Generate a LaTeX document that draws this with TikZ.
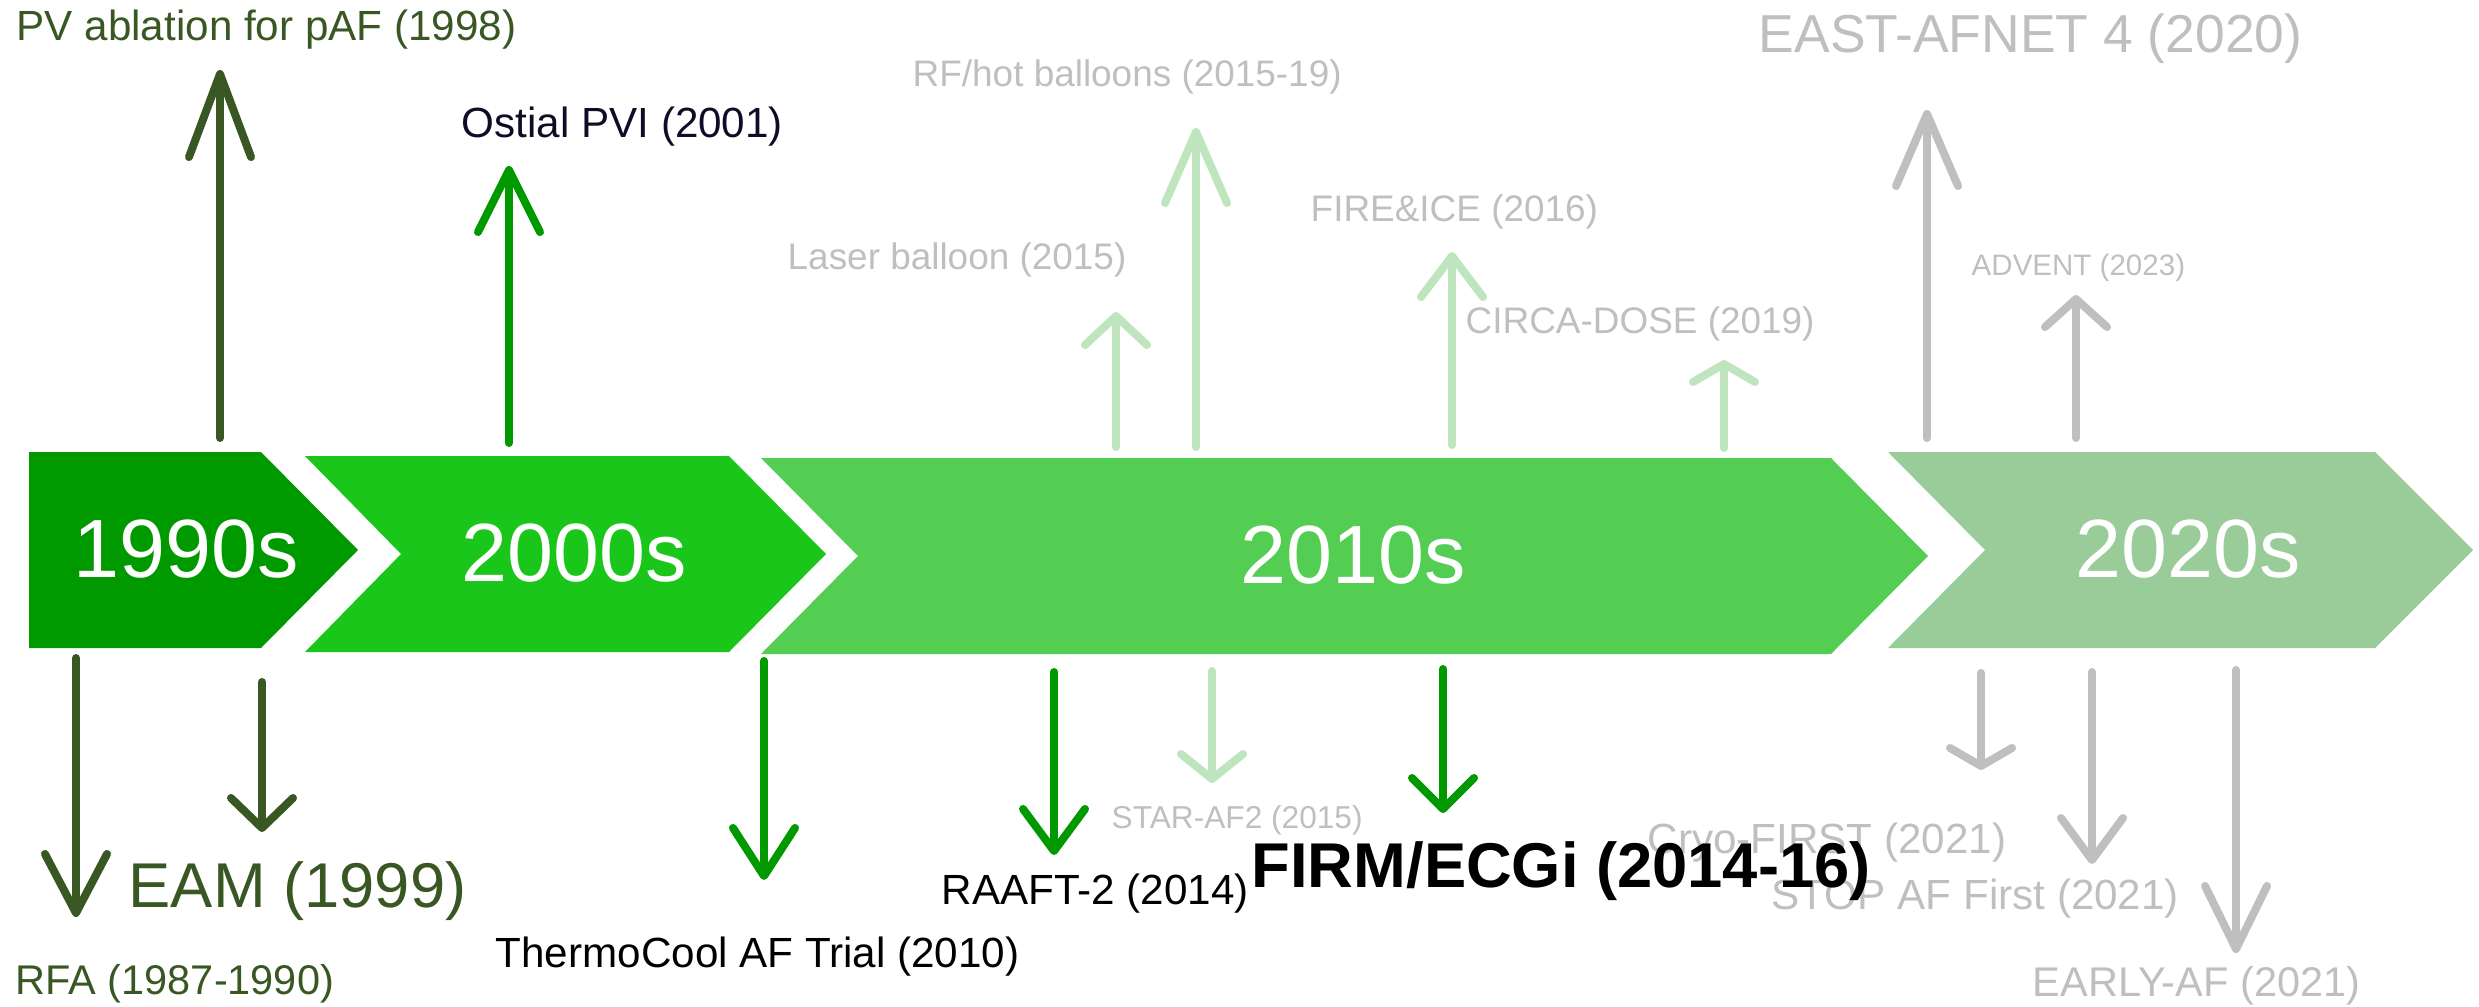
\documentclass[tikz,border=0pt]{standalone}
\usepackage{fontspec}
\setmainfont{Liberation Sans}
\usepackage{tikz}
\usetikzlibrary{arrows.meta, positioning}
\definecolor{olivegrn}{HTML}{385723}
\definecolor{darkgrn}{HTML}{009900}
\definecolor{midgrn}{HTML}{1AC61A}
\definecolor{brightgrn}{HTML}{53CE53}
\definecolor{palegrn}{HTML}{99CC99}
\definecolor{lightgrn}{HTML}{BEE5BE}
\definecolor{greytxt}{HTML}{BFBFBF}
\definecolor{navytxt}{HTML}{0D0D26}
\newcommand{\fsz}[1]{\fontsize{#1}{#1}\selectfont}

\begin{document}
\begin{tikzpicture}[x=0.01cm, y=-0.01cm,
	arr/.style={line width=0.08cm, line cap=round, -{Straight Barb[length=#1, width=0.62cm, round]}}]
	\tikzstyle{lbl}=[inner sep=0pt, anchor=base west]
	\tikzstyle{decade}=[inner sep=0pt, anchor=base, text=white, font=\fsz{23.5}]
	\useasboundingbox (0,0) rectangle (2479,1006);
	
	% decade chevrons
	\fill[darkgrn] (29,452) -- (261,452) -- (358,550) -- (261,648) -- (29,648) -- cycle;
	\fill[midgrn] (305,456) -- (729,456) -- (826,554) -- (729,652) -- (305,652) -- (401,554) -- cycle;
	\fill[brightgrn] (761,458) -- (1831,458) -- (1928,556) -- (1831,654) -- (761,654) -- (858,556) -- cycle;
	\fill[palegrn] (1888,452) -- (2375,452) -- (2473,550) -- (2375,648) -- (1888,648) -- (1985,550) -- cycle;
	\node (d90) at (186,577) [decade]{1990s};
	\node (d00) at (574,581) [decade]{2000s};
	\node (d10) at (1353,583) [decade]{2010s};
	\node (d20) at (2188,577) [decade]{2020s};
	
	% upper arrows
	\coordinate (pvA) at (220,438);  \coordinate (pvB) at (220,70);
	\coordinate (osA) at (509,443);  \coordinate (osB) at (509,166);
	\coordinate (lbA) at (1116,447); \coordinate (lbB) at (1116,312);
	\coordinate (rfA) at (1196,447); \coordinate (rfB) at (1196,128);
	\coordinate (fiA) at (1452,445); \coordinate (fiB) at (1452,252);
	\coordinate (cdA) at (1724,448); \coordinate (cdB) at (1724,360);
	\coordinate (eaA) at (1927,438); \coordinate (eaB) at (1927,110);
	\coordinate (adA) at (2076,438); \coordinate (adB) at (2076,295);
	\draw[arr=0.83cm, olivegrn] (pvA) -- (pvB);
	\draw[arr=0.62cm, darkgrn] (osA) -- (osB);
	\draw[arr=0.29cm, lightgrn] (lbA) -- (lbB);
	\draw[arr=0.71cm, lightgrn] (rfA) -- (rfB);
	\draw[arr=0.41cm, lightgrn] (fiA) -- (fiB);
	\draw[arr=0.18cm, lightgrn] (cdA) -- (cdB);
	\draw[arr=0.72cm, greytxt] (eaA) -- (eaB);
	\draw[arr=0.28cm, greytxt] (adA) -- (adB);
	
	% lower arrows
	\coordinate (rfaA) at (76,658);   \coordinate (rfaB) at (76,917);
	\coordinate (eamA) at (262,682);  \coordinate (eamB) at (262,832);
	\coordinate (tcA) at (764,661);   \coordinate (tcB) at (764,880);
	\coordinate (raA) at (1054,672);  \coordinate (raB) at (1054,855);
	\coordinate (stA) at (1212,671);  \coordinate (stB) at (1212,783);
	\coordinate (fmA) at (1443,669);  \coordinate (fmB) at (1443,813);
	\coordinate (cfA) at (1981,673);  \coordinate (cfB) at (1981,770);
	\coordinate (spA) at (2092,672);  \coordinate (spB) at (2092,864);
	\coordinate (elA) at (2236,670);  \coordinate (elB) at (2236,953);
	\draw[arr=0.59cm, olivegrn] (rfaA) -- (rfaB);
	\draw[arr=0.30cm, olivegrn] (eamA) -- (eamB);
	\draw[arr=0.48cm, darkgrn] (tcA) -- (tcB);
	\draw[arr=0.42cm, darkgrn] (raA) -- (raB);
	\draw[arr=0.25cm, lightgrn] (stA) -- (stB);
	\draw[arr=0.31cm, darkgrn] (fmA) -- (fmB);
	\draw[arr=0.18cm, greytxt] (cfA) -- (cfB);
	\draw[arr=0.42cm, greytxt] (spA) -- (spB);
	\draw[arr=0.63cm, greytxt] (elA) -- (elB);
	
	% labels above
	\node (pv) at (16,41) [lbl, text=olivegrn, font=\fsz{12}]{PV ablation for pAF (1998)};
	\node (os) at (461,137) [lbl, text=navytxt, font=\fsz{12}]{Ostial PVI (2001)};
	\node (rf) at (912,87) [lbl, text=greytxt, font=\fsz{10.5}]{RF/hot balloons (2015-19)};
	\node (lb) at (787,269) [lbl, text=greytxt, font=\fsz{10.5}]{Laser balloon (2015)};
	\node (fi) at (1310,221) [lbl, text=greytxt, font=\fsz{10.5}]{FIRE\&ICE (2016)};
	\node (cd) at (1465,333) [lbl, text=greytxt, font=\fsz{10.5}]{CIRCA-DOSE (2019)};
	\node (ea) at (1758,52) [lbl, text=greytxt, font=\fsz{15.2}]{EAST-AFNET 4 (2020)};
	\node (ad) at (1971,275) [lbl, text=greytxt, font=\fsz{8.4}]{ADVENT (2023)};
	
	% labels below
	\node (eam) at (128,907) [lbl, text=olivegrn, font=\fsz{18}]{EAM (1999)};
	\node (rfa) at (15,994) [lbl, text=olivegrn, font=\fsz{11.8}]{RFA (1987-1990)};
	\node (tc) at (495,967) [lbl, text=black, font=\fsz{12}]{ThermoCool AF Trial (2010)};
	\node (ra) at (941,904) [lbl, text=black, font=\fsz{12}]{RAAFT-2 (2014)};
	\node (st) at (1111,828) [lbl, text=greytxt, font=\fsz{9}]{STAR-AF2 (2015)};
	\node (cf) at (1647,853) [lbl, text=greytxt, font=\fsz{12}]{Cryo-FIRST (2021)};
	\node (sp) at (1771,909) [lbl, text=greytxt, font=\fsz{12}]{STOP AF First (2021)};
	\node (el) at (2032,996) [lbl, text=greytxt, font=\fsz{11.8}]{EARLY-AF (2021)};
	\node (fm) at (1251,887) [lbl, text=black, font=\fsz{18}\bfseries]{FIRM/ECGi (2014-16)};
\end{tikzpicture}
\end{document}
